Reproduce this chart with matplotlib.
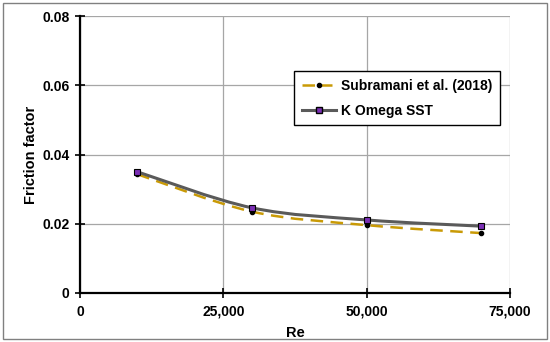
import matplotlib.pyplot as plt
import numpy as np
from matplotlib.path import Path
from matplotlib.patches import PathPatch, Rectangle
from matplotlib.lines import Line2D

plt.rcParams['font.family'] = ['Liberation Sans', 'DejaVu Sans']
plt.rcParams['font.weight'] = 'bold'

re_vals = [10000, 30000, 50000, 70000]
subramani = [0.0343, 0.0235, 0.0196, 0.0173]
k_omega = [0.0350, 0.0246, 0.0211, 0.0193]


def smooth_path(x, y):
    '''Catmull-Rom style bezier through the points (like Excel smoothed lines)'''
    x = np.asarray(x, float)
    y = np.asarray(y, float)
    verts = [(x[0], y[0])]
    codes = [Path.MOVETO]
    n = len(x)
    for i in range(n - 1):
        p0 = (x[max(i - 1, 0)], y[max(i - 1, 0)])
        p1 = (x[i], y[i])
        p2 = (x[i + 1], y[i + 1])
        p3 = (x[min(i + 2, n - 1)], y[min(i + 2, n - 1)])
        c1 = (p1[0] + (p2[0] - p0[0]) / 6, p1[1] + (p2[1] - p0[1]) / 6)
        c2 = (p2[0] - (p3[0] - p1[0]) / 6, p2[1] - (p3[1] - p1[1]) / 6)
        verts += [c1, c2, p2]
        codes += [Path.CURVE4] * 3
    return Path(verts, codes)


fig = plt.figure(figsize=(5.5, 3.42), dpi=100)
ax = fig.add_axes([80 / 550, 1 - 293 / 342, 430 / 550, 277 / 342])

gold = '#C99A06'
grey = '#5A5A5A'

ax.add_patch(PathPatch(smooth_path(re_vals, subramani), fill=False, edgecolor=gold,
                       lw=1.8, linestyle=(0, (5, 3)), zorder=3))
ax.plot(re_vals, subramani, ls='none', marker='o', ms=3, mfc='black', mec='black', zorder=4)

ax.add_patch(PathPatch(smooth_path(re_vals, k_omega), fill=False, edgecolor=grey,
                       lw=2.2, zorder=3))
ax.plot(re_vals, k_omega, ls='none', marker='s', ms=4.5, mfc='#7B2FB5', mec='black',
        mew=0.8, zorder=5)

ax.set_xlim(0, 75000)
ax.set_ylim(0, 0.08)
ax.set_xticks([0, 25000, 50000, 75000])
ax.set_xticklabels(['0', '25,000', '50,000', '75,000'])
ax.set_yticks([0, 0.02, 0.04, 0.06, 0.08])
ax.set_yticklabels(['0', '0.02', '0.04', '0.06', '0.08'])
ax.tick_params(labelsize=10, length=7, width=1.2, direction='inout')
ax.tick_params(axis='x', pad=5)
ax.tick_params(axis='y', pad=4)
for lab in ax.get_xticklabels() + ax.get_yticklabels():
    lab.set_fontweight('bold')

ax.grid(True, color='#A6A6A6', lw=0.9)
ax.set_axisbelow(True)
ax.spines['top'].set_visible(False)
ax.spines['right'].set_visible(False)
ax.spines['left'].set_linewidth(1.6)
ax.spines['bottom'].set_linewidth(1.6)

ax.set_xlabel('Re', fontsize=10.5, fontweight='bold', labelpad=5)
ax.set_ylabel('Friction factor', fontsize=10.5, fontweight='bold', labelpad=3)

handles = [
    Line2D([], [], color=gold, lw=1.8, ls=(0, (5, 2)), marker='o', ms=3,
           mfc='black', mec='black'),
    Line2D([], [], color=grey, lw=2.2, marker='s', ms=4, mfc='#7B2FB5', mec='black'),
]
leg = ax.legend(handles, ['Subramani et al. (2018)', 'K Omega SST'],
                loc='upper left', bbox_to_anchor=((294 - 80) / 430, (293 - 71) / 277),
                fontsize=10, frameon=True, fancybox=False, edgecolor='black',
                framealpha=1, borderpad=0.55, labelspacing=0.8, handlelength=2.5,
                handletextpad=0.3, borderaxespad=0)
leg.get_frame().set_linewidth(1.0)
for t in leg.get_texts():
    t.set_fontweight('bold')

fig.patches.append(Rectangle((3 / 550, 3 / 342), 544 / 550, 336 / 342, transform=fig.transFigure,
                             fill=False, edgecolor='#808080', lw=1.0))

fig.savefig('out.png', dpi=100)
